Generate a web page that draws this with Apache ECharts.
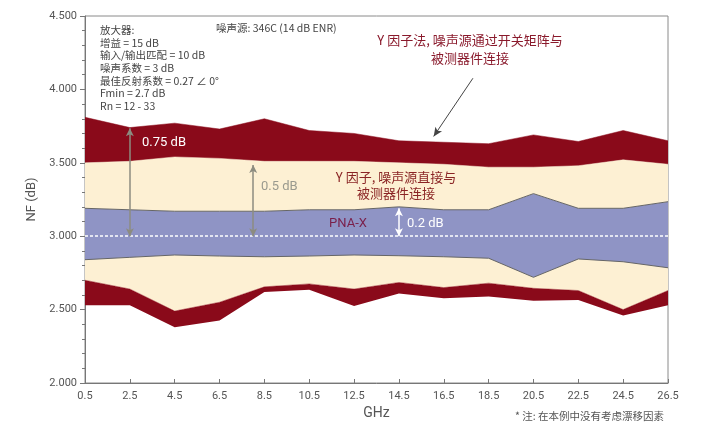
<!DOCTYPE html>
<html>
<head>
<meta charset="utf-8">
<script src="https://cdn.jsdelivr.net/npm/echarts@6/dist/echarts.min.js"></script>
<style>html,body{margin:0;padding:0;background:#fff;}#c{width:720px;height:430px;}</style>
</head>
<body>
<div id="c"></div>
<script>
var freqs = ['0.5','2.5','4.5','6.5','8.5','10.5','12.5','14.5','16.5','18.5','20.5','22.5','24.5','26.5'];
// band boundaries (NF, dB), top to bottom
var redTop       = [3.81, 3.74, 3.77, 3.73, 3.80, 3.72, 3.70, 3.65, 3.64, 3.63, 3.69, 3.645, 3.72, 3.65];
var yellowTop    = [3.50, 3.51, 3.54, 3.53, 3.51, 3.51, 3.51, 3.50, 3.49, 3.47, 3.47, 3.48, 3.52, 3.49];
var blueTop      = [3.19, 3.18, 3.17, 3.17, 3.17, 3.18, 3.18, 3.20, 3.18, 3.18, 3.29, 3.19, 3.19, 3.235];
var blueBottom   = [2.84, 2.856, 2.872, 2.865, 2.86, 2.865, 2.872, 2.867, 2.86, 2.85, 2.72, 2.845, 2.826, 2.785];
var yellowBottom = [2.70, 2.64, 2.49, 2.55, 2.655, 2.675, 2.64, 2.685, 2.65, 2.68, 2.645, 2.63, 2.50, 2.63];
var redBottom    = [2.53, 2.53, 2.38, 2.425, 2.62, 2.635, 2.525, 2.61, 2.578, 2.59, 2.56, 2.565, 2.46, 2.53];
var yTicks = [2.0, 2.5, 3.0, 3.5, 4.0, 4.5];
var refLevel = 3.0;
// arrows: [GHz, from, to]
var arrow075 = [2.5, 3.0, 3.735];
var arrow05  = [8.0, 3.0, 3.485];
var arrow02  = [14.5, 3.0, 3.19];
var pointer  = [[17.8, 4.076], [16.05, 3.68]];

var RED = '#8a0a1a', CREAM = '#fdf0d3', BLUE = '#8f94c5';
var numFont = "'Liberation Sans Narrow', Roboto, 'Noto Sans', sans-serif";
var cjk = "'Noto Sans CJK SC', 'Noto Sans', sans-serif";

function diff(a, b) { return a.map(function (v, i) { return +(v - b[i]).toFixed(4); }); }

function band(name, data, color, lineColor) {
  return {
    name: name, type: 'line', stack: 'nf', data: data, symbol: 'none', smooth: false,
    lineStyle: { color: lineColor || color, width: lineColor ? 1 : 0.5 },
    areaStyle: { color: color, opacity: 1 }, z: 2
  };
}

var chart = echarts.init(document.getElementById('c'), null, { renderer: 'canvas' });
var option = {
  animation: false,
  backgroundColor: '#fff',
  grid: { left: 85, right: 52, top: 16, bottom: 47, show: true, borderColor: '#8a8a8a', borderWidth: 1, backgroundColor: 'transparent' },
  xAxis: [{
    type: 'category', data: freqs, boundaryGap: false,
    name: 'GHz', nameLocation: 'middle', nameGap: 22,
    nameTextStyle: { color: '#555', fontSize: 14, fontFamily: numFont },
    axisLine: { lineStyle: { color: '#777' } },
    axisTick: { show: true, inside: true, length: 4, lineStyle: { color: '#777' } },
    axisLabel: { color: '#555', fontSize: 11, fontFamily: numFont, margin: 8 },
    splitLine: { show: false }
  }, {
    type: 'value', min: 0.5, max: 26.5, show: false
  }],
  yAxis: {
    type: 'value', min: yTicks[0], max: yTicks[yTicks.length - 1], interval: 0.5,
    name: 'NF (dB)', nameLocation: 'middle', nameGap: 27,
    nameTextStyle: { color: '#555', fontSize: 13, fontFamily: numFont },
    axisLine: { show: true, lineStyle: { color: '#777' } },
    axisTick: { show: true, length: 5, lineStyle: { color: '#777' } },
    minorTick: { show: true, splitNumber: 5, length: 3, lineStyle: { color: '#777' } },
    axisLabel: { color: '#555', fontSize: 11, fontFamily: numFont, margin: 8,
      formatter: function (v) { return v.toFixed(3); } },
    splitLine: { show: false }
  },
  series: [
    { name: 'base', type: 'line', stack: 'nf', data: redBottom, symbol: 'none', lineStyle: { width: 0, opacity: 0 }, z: 2 },
    band('lowRed', diff(yellowBottom, redBottom), RED),
    band('lowCream', diff(blueBottom, yellowBottom), CREAM, '#666'),
    band('blue', diff(blueTop, blueBottom), BLUE, '#666'),
    band('upCream', diff(yellowTop, blueTop), CREAM),
    band('upRed', diff(redTop, yellowTop), RED),
    {
      name: 'annot', type: 'line', xAxisIndex: 1, data: [[0.5, refLevel]], symbol: 'none',
      lineStyle: { opacity: 0 }, z: 5, silent: true,
      markLine: {
        silent: true, animation: false, label: { show: false },
        data: [
          [{ coord: [0.5, refLevel], symbol: 'none', lineStyle: { color: '#ffffff', width: 1.5, type: [3, 2] } },
           { coord: [26.5, refLevel], symbol: 'none' }],
          [{ coord: [arrow075[0], arrow075[1]], symbol: 'arrow', symbolSize: [6, 8], lineStyle: { color: '#8c8c80', width: 1.5, type: 'solid' } },
           { coord: [arrow075[0], arrow075[2]], symbol: 'arrow', symbolSize: [6, 8] }],
          [{ coord: [arrow05[0], arrow05[1]], symbol: 'arrow', symbolSize: [6, 8], lineStyle: { color: '#8c8c80', width: 1.5, type: 'solid' } },
           { coord: [arrow05[0], arrow05[2]], symbol: 'arrow', symbolSize: [6, 8] }],
          [{ coord: [arrow02[0], arrow02[1]], symbol: 'arrow', symbolSize: [6, 8], lineStyle: { color: '#ffffff', width: 1.5, type: 'solid' } },
           { coord: [arrow02[0], arrow02[2]], symbol: 'arrow', symbolSize: [6, 8] }],
          [{ coord: pointer[0], symbol: 'none', lineStyle: { color: '#444', width: 1, type: 'solid' } },
           { coord: pointer[1], symbol: 'arrow', symbolSize: [6, 9] }]
        ]
      }
    }
  ],
  graphic: [
    { type: 'text', left: 100, top: 24, style: { text: '放大器:\n增益 = 15 dB\n输入/输出匹配 = 10 dB\n噪声系数 = 3 dB\n最佳反射系数 = 0.27 ∠ 0°\nFmin = 2.7 dB\nRn = 12 - 33', fill: '#444', font: '10.5px ' + cjk, lineHeight: 12.6 }, z: 10 },
    { type: 'text', left: 216, top: 23, style: { text: '噪声源: 346C (14 dB ENR)', fill: '#444', font: '10.5px ' + cjk }, z: 10 },
    { type: 'text', x: 470, y: 49, style: { text: 'Y 因子法, 噪声源通过开关矩阵与\n被测器件连接', fill: '#8a1a2c', font: '13px ' + cjk, align: 'center', verticalAlign: 'middle', lineHeight: 18.5 }, z: 10 },
    { type: 'text', x: 396, y: 185, style: { text: 'Y 因子, 噪声源直接与\n被测器件连接', fill: '#8a2424', font: '13px ' + cjk, align: 'center', verticalAlign: 'middle', lineHeight: 16.5 }, z: 10 },
    { type: 'text', x: 142, y: 143, style: { text: '0.75 dB', fill: '#ffffff', font: '13px ' + numFont, verticalAlign: 'middle' }, z: 10 },
    { type: 'text', x: 261, y: 187, style: { text: '0.5 dB', fill: '#9a9a8e', font: '13px ' + numFont, verticalAlign: 'middle' }, z: 10 },
    { type: 'text', x: 348, y: 224, style: { text: 'PNA-X', fill: '#7a1f4a', font: '13px ' + numFont, align: 'center', verticalAlign: 'middle' }, z: 10 },
    { type: 'text', x: 407, y: 224, style: { text: '0.2 dB', fill: '#ffffff', font: '13px ' + numFont, verticalAlign: 'middle' }, z: 10 },
    { type: 'text', right: 56, top: 411, style: { text: '* 注: 在本例中没有考虑漂移因素', fill: '#555', font: '10.5px ' + cjk }, z: 10 }
  ]
};
chart.setOption(option);
</script>
</body>
</html>
